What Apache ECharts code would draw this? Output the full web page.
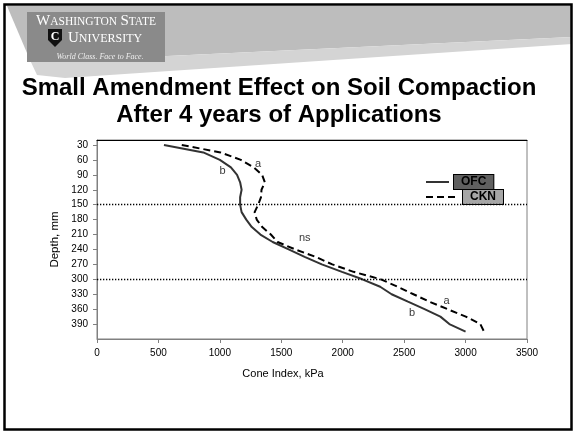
<!DOCTYPE html>
<html>
<head>
<meta charset="utf-8">
<script src="https://cdn.jsdelivr.net/npm/echarts@6/dist/echarts.min.js"></script>
<style>
  html, body { margin: 0; padding: 0; background: #fff; }
  #chart { width: 574px; height: 432px; }
</style>
</head>
<body>
<div id="chart"></div>
<script>
// depth of each reading, mm
var depths = [30, 45, 60, 75, 90, 105, 120, 135, 150, 165, 180, 195, 210,
              225, 240, 255, 270, 285, 300, 315, 330, 345, 360, 375, 390, 405];
// cone index, kPa
var ofc = [545, 865, 1000, 1090, 1140, 1165, 1177, 1165, 1165, 1177, 1215, 1260, 1330,
           1430, 1560, 1690, 1830, 1994, 2160, 2305, 2398, 2531, 2666, 2795, 2868, 3000];
var ckn = [690, 1005, 1171, 1275, 1344, 1366, 1339, 1335, 1312, 1283, 1300, 1345, 1415,
           1470, 1614, 1780, 1915, 2088, 2310, 2447, 2576, 2705, 2853, 3002, 3120, 3150];
var depthTicks = [30, 60, 90, 120, 150, 180, 210, 240, 270, 300, 330, 360, 390];
var layerBreaks = [150, 300];
// significance letters placed in data space
var noteText = ['a', 'b', 'ns', 'a', 'b'];
var noteX = [1310, 1023, 1691, 2846, 2565];
var noteY = [69, 82, 216, 343, 367];

function pairs(vals) {
  return depths.map(function (d, i) { return [vals[i], d]; });
}

var font = 'Liberation Sans, Arial, sans-serif';
var serif = 'Liberation Serif, Times New Roman, serif';

var legendText = { fontFamily: font, fontSize: 12, fontWeight: 'bold', color: '#000',
  borderColor: '#000', borderWidth: 1, padding: [1, 7, 1, 7] };

var chart = echarts.init(document.getElementById('chart'));

chart.setOption({
  animation: false,
  backgroundColor: '#fff',
  textStyle: { fontFamily: font },
  grid: { left: 97, right: 47, top: 140, bottom: 93, show: true, borderColor: '#808080', borderWidth: 1 },
  legend: [
    {
      data: [{ name: 'OFC', textStyle: { backgroundColor: '#606060' } }],
      left: 420, top: 169, itemWidth: 23, itemHeight: 15, itemGap: 0,
      itemStyle: { opacity: 0 },
      textStyle: legendText
    },
    {
      data: [{ name: 'CKN', textStyle: { backgroundColor: '#a6a6a6' } }],
      left: 420, top: 184, itemWidth: 32, itemHeight: 14, itemGap: 0,
      itemStyle: { opacity: 0 },
      textStyle: legendText
    }
  ],
  xAxis: [{
    type: 'value', min: 0, max: 3500, interval: 500,
    name: 'Cone Index, kPa', nameLocation: 'middle', nameGap: 29,
    nameTextStyle: { fontSize: 11, color: '#000', padding: [0, 58, 0, 0] },
    axisLine: { show: true, lineStyle: { color: '#808080' } },
    axisTick: { show: true, length: 4, lineStyle: { color: '#808080' } },
    axisLabel: { fontSize: 10, color: '#000', margin: 9, formatter: function (v) { return String(v); } },
    splitLine: { show: false }
  }, {
    type: 'value', position: 'top', min: 0, max: 3500,
    axisLine: { show: true, lineStyle: { color: '#000' } },
    axisTick: { show: false }, axisLabel: { show: false }, splitLine: { show: false }
  }],
  yAxis: {
    type: 'value', inverse: true, min: 20, max: 420,
    name: 'Depth, mm', nameLocation: 'middle', nameGap: 35,
    nameTextStyle: { fontSize: 11.5, color: '#000' },
    axisLine: { show: true, lineStyle: { color: '#808080' } },
    axisTick: { show: true, length: 4, customValues: depthTicks, lineStyle: { color: '#808080' } },
    axisLabel: { fontSize: 10, color: '#000', margin: 9, customValues: depthTicks },
    splitLine: { show: false }
  },
  series: [
    {
      name: 'OFC', type: 'line', data: pairs(ofc), symbol: 'none', showSymbol: false,
      lineStyle: { color: '#333', width: 2 },
      itemStyle: { color: '#333' },
      markLine: {
        silent: true, symbol: 'none', label: { show: false },
        lineStyle: { color: '#000', width: 1.3, type: [1.3, 1.7] },
        data: layerBreaks.map(function (v) { return { yAxis: v }; })
      }
    },
    {
      name: 'CKN', type: 'line', data: pairs(ckn), symbol: 'none', showSymbol: false,
      lineStyle: { color: '#000', width: 2, type: [7, 4] },
      itemStyle: { color: '#000' }
    },
    {
      name: 'notes', type: 'scatter', symbolSize: 1, silent: true,
      itemStyle: { color: 'rgba(0,0,0,0)' },
      data: noteText.map(function (t, i) { return { name: t, value: [noteX[i], noteY[i]] }; }),
      label: { show: true, position: 'inside', formatter: '{b}', fontSize: 11, color: '#000' }
    }
  ],
  graphic: [
    // slide header band
    { type: 'polygon', z: -10, shape: { points: [[7, 6], [572, 6], [572, 37], [40, 62], [30, 60]] }, style: { fill: '#bdbdbd' } },
    { type: 'polygon', z: -10, shape: { points: [[30, 60], [40, 62], [572, 37], [572, 44], [65, 78], [37, 75]] }, style: { fill: '#d4d4d4' } },
    // university logo
    { type: 'rect', z: -5, shape: { x: 27, y: 12, width: 138, height: 50 }, style: { fill: '#8a8a8a' } },
    { type: 'text', z: -4, x: 96, y: 14, style: {
        text: '{b|W}{s|ASHINGTON} {b|S}{s|TATE}', align: 'center',
        rich: { b: { fontFamily: serif, fontSize: 15, fill: '#fff' }, s: { fontFamily: serif, fontSize: 11.5, fill: '#fff' } } } },
    { type: 'polygon', z: -4, shape: { points: [[48, 29], [62, 29], [62, 40], [55, 47], [48, 40]] }, style: { fill: '#111' } },
    { type: 'text', z: -3, x: 55, y: 31, style: { text: 'C', align: 'center', fontFamily: serif, fontSize: 12, fontWeight: 'bold', fill: '#fff' } },
    { type: 'text', z: -4, x: 68, y: 31, style: {
        text: '{b|U}{s|NIVERSITY}',
        rich: { b: { fontFamily: serif, fontSize: 15, fill: '#fff' }, s: { fontFamily: serif, fontSize: 12, fill: '#fff' } } } },
    { type: 'text', z: -4, x: 100, y: 53, style: { text: 'World Class. Face to Face.', align: 'center', fontFamily: serif, fontStyle: 'italic', fontSize: 8, fill: '#eee' } },
    // slide title
    { type: 'text', x: 279, y: 75, style: {
        text: 'Small Amendment Effect on Soil Compaction\nAfter 4 years of Applications',
        align: 'center', fontFamily: font, fontSize: 24, fontWeight: 'bold', lineHeight: 27, fill: '#000' } },
    // slide frame
    { type: 'rect', z: 100, shape: { x: 4.5, y: 4.5, width: 567, height: 425 }, style: { fill: 'none', stroke: '#000', lineWidth: 2.5 } }
  ]
});
</script>
</body>
</html>
